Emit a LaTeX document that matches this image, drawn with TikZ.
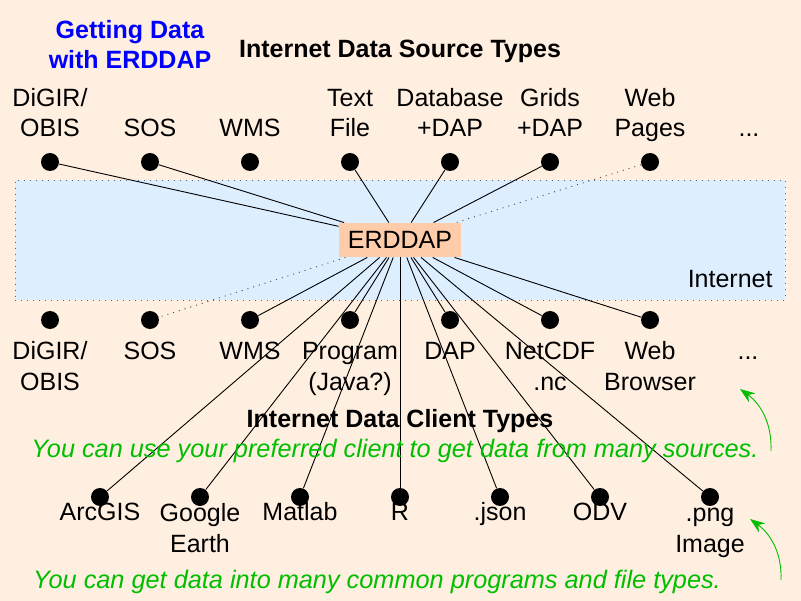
\documentclass[tikz,border=0pt]{standalone}
\usepackage{fontspec}
\setmainfont{Liberation Sans}
\usepackage{tikz}
\usetikzlibrary{arrows.meta}
\definecolor{paper}{RGB}{255,239,224}
\definecolor{band}{RGB}{221,238,255}
\definecolor{bandedge}{RGB}{90,100,110}
\definecolor{boxfill}{RGB}{255,204,170}
\definecolor{hintgreen}{RGB}{0,190,0}

\begin{document}
\begin{tikzpicture}[x=1pt,y=-1pt,line width=0.9pt]
    \tikzstyle{dot}=[circle,fill=black,minimum width=17pt,minimum height=18pt,inner sep=0pt]
    \tikzstyle{type}=[font=\fontsize{25}{31}\selectfont,align=center,anchor=base,inner sep=0pt]
    \tikzstyle{head}=[type,font=\fontsize{25}{30}\selectfont\bfseries]
    \tikzstyle{hint}=[type,font=\fontsize{25.3}{30}\selectfont\itshape,text=hintgreen]
    \tikzstyle{link}=[draw=black]
    \tikzstyle{weak link}=[draw=black!70,dash pattern=on 1pt off 5pt]
    \tikzstyle{hint arrow}=[draw=hintgreen,-{Stealth[length=15pt,width=11pt]}]

    % Background and the Internet band
    \useasboundingbox[fill=paper] (0,0) rectangle (801,601);
    \node[fill=band,draw=bandedge,dash pattern=on 1pt off 5pt,minimum width=770pt,minimum height=120pt,inner sep=0pt] (net) at (400,240) {};
    \node[type,anchor=base east] (net-l) at (773,288) {Internet};

    % Titles
    \node[head,text=blue] (title) at (130,69) {Getting Data\\[0pt]with ERDDAP};
    \node[head] (src-head) at (400,58) {Internet Data Source Types};
    \node[head] (cli-head) at (400,428) {Internet Data Client Types};

    % The server in the middle
    \node[fill=boxfill,minimum width=122pt,minimum height=34pt,inner sep=0pt,font=\fontsize{25}{30}\selectfont] (erddap) at (400,240) {ERDDAP};

    % Draw the source row (above the band)
    \foreach \name in {1,...,7}
        \node[dot] (S-\name) at ({100*\name-50},162) {};
    \foreach \name / \txt in {1/{DiGIR/\\OBIS},2/SOS,3/WMS,4/{Text\\File},
                              5/{Database\\+DAP},6/{Grids\\+DAP},7/{Web\\Pages}}
        \node[type,font=\fontsize{25}{30}\selectfont] (s-\name) at ({100*\name-50},137) {\txt};
    \node[type] (s-more) at (749,137) {...};

    % Draw the client row (below the band)
    \foreach \name in {1,...,7}
        \node[dot] (C-\name) at ({100*\name-50},320) {};
    \foreach \name / \y / \txt in {1/391/{DiGIR/\\OBIS},2/360/SOS,3/360/WMS,4/391/{Program\\(Java?)},
                                   5/360/DAP,6/391/{NetCDF\\.nc},7/391/{Web\\Browser}}
        \node[type] (c-\name) at ({100*\name-50},\y) {\txt};
    \node[type] (c-more) at (748,360) {...};

    % Draw the program and file row
    \foreach \name / \x / \y / \txt in {1/100/521/ArcGIS,2/200/552/{Google\\Earth},3/300/521/Matlab,4/400/521/R,
                                        5/500/521/.json,6/600/521/ODV,7/710/552/{.png\\Image}}
    {
        \node[dot] (P-\name) at (\x,497) {};
        \node[type] (p-\name) at (\x,\y) {\txt};
    }

    % Connect the sources with ERDDAP
    \foreach \source in {1,2,4,5,6}
        \path[link] (S-\source) edge (erddap);
    \path[weak link] (S-7) edge (erddap);

    % Connect ERDDAP with the clients, programs and files
    \foreach \dest in {3,...,7}
        \path[link] (erddap) edge (C-\dest);
    \path[weak link] (erddap) edge (C-2);
    \foreach \dest in {1,...,7}
        \path[link] (erddap) edge (P-\dest);

    % Annotate
    \node[hint] (hint-1) at (395,458) {You can use your preferred client to get data from many sources.};
    \node[hint] (hint-2) at (377,588) {You can get data into many common programs and file types.};
    \coordinate (a1-from) at (771,451);
    \coordinate (a1-to) at (740,389);
    \coordinate (a2-from) at (781,580);
    \coordinate (a2-to) at (750,519);
    \draw[hint arrow] (a1-from) .. controls (772,425) and (762,405) .. (a1-to);
    \draw[hint arrow] (a2-from) .. controls (782,555) and (772,535) .. (a2-to);
\end{tikzpicture}
\end{document}
